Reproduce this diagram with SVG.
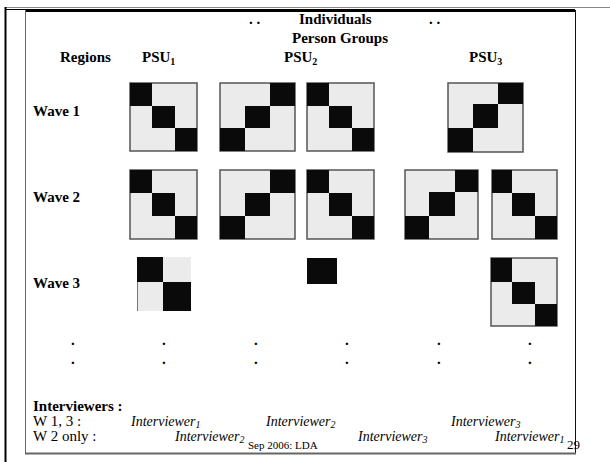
<svg xmlns="http://www.w3.org/2000/svg" width="610" height="462" viewBox="0 0 610 462">
<style>
.b{font-family:"Liberation Serif","Times New Roman",serif;font-weight:bold;font-size:15px;fill:#000}
.r{font-family:"Liberation Serif","Times New Roman",serif;font-size:15px;fill:#000}
.i{font-family:"Liberation Serif","Times New Roman",serif;font-style:italic;font-size:14px;fill:#000}
.s{font-size:10px}
.bg{fill:#ebebeb;stroke:#555;stroke-width:1.5}
.k{fill:#0a0a0a}
.d{font-family:"Liberation Serif","Times New Roman",serif;font-weight:bold;font-size:15px;fill:#000}
</style>
<rect width="610" height="462" fill="#fff"/>
<g id="frame">
<line x1="5" y1="7.5" x2="610" y2="7.5" stroke="#888" stroke-width="1"/>
<line x1="5.5" y1="7" x2="5.5" y2="462" stroke="#000" stroke-width="2"/>
<line x1="5" y1="9.5" x2="25" y2="9.5" stroke="#000" stroke-width="1"/>
<line x1="25" y1="10.5" x2="575" y2="10.5" stroke="#000" stroke-width="3"/>
<line x1="25.5" y1="10" x2="25.5" y2="454" stroke="#666" stroke-width="1"/>
<line x1="575.5" y1="10" x2="575.5" y2="454" stroke="#111" stroke-width="1"/>
<line x1="25" y1="453.5" x2="576" y2="453.5" stroke="#666" stroke-width="2"/>
</g>
<g id="header">
<text class="b" x="249" y="24">. .</text>
<text class="b" x="299" y="24">Individuals</text>
<text class="b" x="429" y="24">. .</text>
<text class="b" x="292" y="43">Person Groups</text>
<text class="b" x="60" y="62">Regions</text>
<text class="b" x="142" y="62">PSU<tspan class="s" dy="3">1</tspan></text>
<text class="b" x="284" y="62">PSU<tspan class="s" dy="3">2</tspan></text>
<text class="b" x="469" y="62">PSU<tspan class="s" dy="3">3</tspan></text>
</g>
<g id="waves">
<text class="b" x="33" y="116">Wave 1</text>
<text class="b" x="33" y="202">Wave 2</text>
<text class="b" x="33" y="288">Wave 3</text>
</g>
<g id="w1-m1"><rect class="bg" x="130" y="83" width="67" height="68"/><rect class="k" x="130" y="83" width="22" height="23"/><rect class="k" x="152" y="106" width="23" height="22"/><rect class="k" x="175" y="128" width="22" height="23"/></g>
<g id="w1-m2"><rect class="bg" x="220" y="83" width="75" height="68"/><rect class="k" x="270" y="83" width="25" height="23"/><rect class="k" x="245" y="106" width="25" height="22"/><rect class="k" x="220" y="128" width="25" height="23"/></g>
<g id="w1-m3"><rect class="bg" x="307" y="83" width="67" height="68"/><rect class="k" x="307" y="83" width="22" height="23"/><rect class="k" x="329" y="106" width="23" height="22"/><rect class="k" x="352" y="128" width="22" height="23"/></g>
<g id="w1-m4"><rect class="bg" x="448" y="83" width="75" height="69"/><rect class="k" x="498" y="83" width="25" height="21"/><rect class="k" x="473" y="104" width="25" height="24"/><rect class="k" x="448" y="128" width="25" height="24"/></g>
<g id="w2-m1"><rect class="bg" x="130" y="170" width="67" height="69"/><rect class="k" x="130" y="170" width="22" height="23"/><rect class="k" x="152" y="193" width="23" height="23"/><rect class="k" x="175" y="216" width="22" height="23"/></g>
<g id="w2-m2"><rect class="bg" x="220" y="170" width="75" height="69"/><rect class="k" x="270" y="170" width="25" height="23"/><rect class="k" x="245" y="193" width="25" height="23"/><rect class="k" x="220" y="216" width="25" height="23"/></g>
<g id="w2-m3"><rect class="bg" x="307" y="170" width="67" height="69"/><rect class="k" x="307" y="170" width="22" height="23"/><rect class="k" x="329" y="193" width="23" height="23"/><rect class="k" x="352" y="216" width="22" height="23"/></g>
<g id="w2-m4"><rect class="bg" x="405" y="170" width="73" height="69"/><rect class="k" x="455" y="170" width="23" height="22"/><rect class="k" x="429" y="192" width="26" height="24"/><rect class="k" x="405" y="216" width="24" height="23"/></g>
<g id="w2-m5"><rect class="bg" x="492" y="170" width="65" height="69"/><rect class="k" x="492" y="170" width="20" height="23"/><rect class="k" x="512" y="193" width="23" height="23"/><rect class="k" x="535" y="216" width="22" height="23"/></g>
<g id="w3-m1"><rect x="137" y="257" width="54" height="54" fill="#ebebeb"/><rect class="k" x="137" y="257" width="26" height="25"/><rect class="k" x="163" y="282" width="28" height="29"/><line x1="137.5" y1="282" x2="137.5" y2="311" stroke="#777" stroke-width="1"/></g>
<g id="w3-m2"><rect class="k" x="307" y="258" width="30" height="26"/></g>
<g id="w3-m3"><rect class="bg" x="491" y="258" width="66" height="68"/><rect class="k" x="491" y="258" width="21" height="24"/><rect class="k" x="512" y="282" width="23" height="22"/><rect class="k" x="535" y="304" width="22" height="22"/></g>
<g id="dots">
<text class="d" x="71" y="345">.</text><text class="d" x="162" y="345">.</text><text class="d" x="254" y="345">.</text><text class="d" x="345" y="345">.</text><text class="d" x="437" y="345">.</text><text class="d" x="528" y="345">.</text>
<text class="d" x="71" y="364">.</text><text class="d" x="162" y="364">.</text><text class="d" x="254" y="364">.</text><text class="d" x="345" y="364">.</text><text class="d" x="437" y="364">.</text><text class="d" x="528" y="364">.</text>
</g>
<g id="interviewers">
<text class="b" x="33" y="411">Interviewers :</text>
<text class="r" x="33" y="426">W 1, 3 :</text>
<text class="r" x="33" y="441">W 2 only :</text>
<text class="i" x="131" y="426">Interviewer<tspan class="s" dy="2">1</tspan></text>
<text class="i" x="266" y="426">Interviewer<tspan class="s" dy="2">2</tspan></text>
<text class="i" x="451" y="426">Interviewer<tspan class="s" dy="2">3</tspan></text>
<text class="i" x="175" y="441">Interviewer<tspan class="s" dy="2">2</tspan></text>
<text class="i" x="358" y="441">Interviewer<tspan class="s" dy="2">3</tspan></text>
<text class="i" x="495" y="441">Interviewer<tspan class="s" dy="2">1</tspan></text>
<text class="r" x="248" y="449" style="font-size:11px">Sep 2006: LDA</text>
<text class="r" x="567" y="449" style="font-size:13px">29</text>
</g>
</svg>
